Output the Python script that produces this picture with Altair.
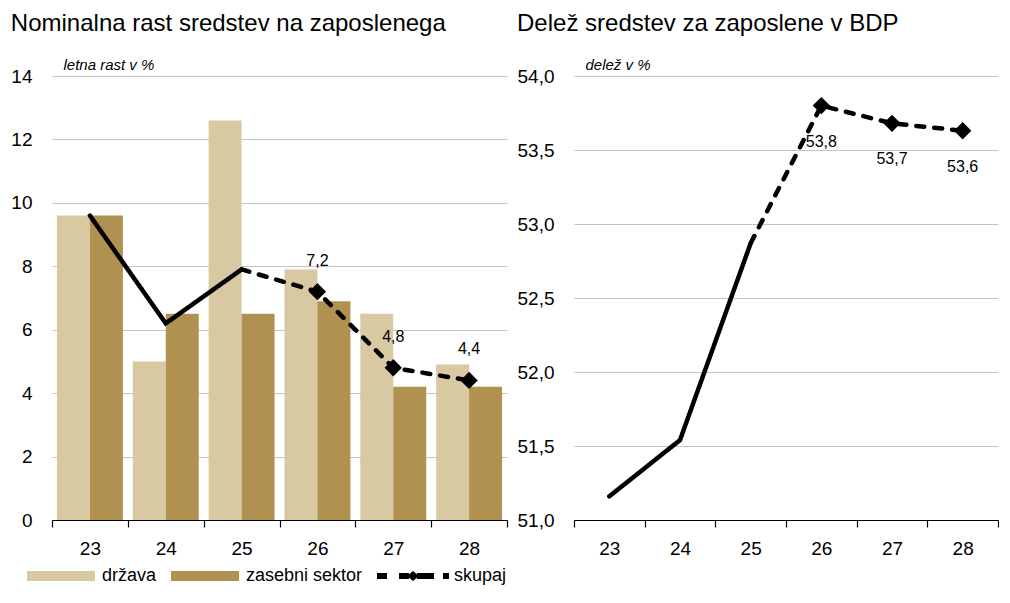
import altair as alt
import pandas as pd

# ---------------- data ----------------
years = ["23", "24", "25", "26", "27", "28"]
drzava = [9.6, 5.0, 12.6, 7.9, 6.5, 4.9]
zasebni = [9.6, 6.5, 6.5, 6.9, 4.2, 4.2]
skupaj = [9.6, 6.2, 7.9, 7.2, 4.8, 4.4]
delez = [51.16, 51.54, 52.87, 53.80, 53.68, 53.63]

series_names = ["država", "zasebni sektor", "skupaj"]
series_colors = ["#d8c9a3", "#b0914f", "#000000"]
last_actual = 2        # index of last realised year (25); forecasts afterwards
first_marker = 3       # forecasts with markers and labels (26-28)

TITLE_LEFT = "Nominalna rast sredstev na zaposlenega"
TITLE_RIGHT = "Delež sredstev za zaposlene v BDP"
UNIT_LEFT = "letna rast v %"
UNIT_RIGHT = "delež v %"

FONT = "Liberation Sans, Arial, sans-serif"


def fmt(v):
    return f"{v:.1f}".replace(".", ",")


bars_df = pd.DataFrame(
    [{"year": y, "series": series_names[0], "value": v} for y, v in zip(years, drzava)]
    + [{"year": y, "series": series_names[1], "value": v} for y, v in zip(years, zasebni)]
)


def line_frame(vals):
    rows = []
    for i in range(0, last_actual + 1):
        rows.append({"year": years[i], "value": vals[i], "seg": "solid"})
    for i in range(last_actual, len(years)):
        rows.append({"year": years[i], "value": vals[i], "seg": "dashed"})
    return pd.DataFrame(rows)


def point_frame(vals):
    return pd.DataFrame(
        [{"year": years[i], "value": vals[i], "label": fmt(vals[i])}
         for i in range(first_marker, len(years))]
    )


RECT = "M-3.4,-0.5H3.4V0.5H-3.4Z"
DASHDIAMOND = ("M-3.6,-0.3H-2.6V0.3H-3.6Z M-1.4,-0.3H-0.4V0.3H-1.4Z "
               "M-0.6,0L0,-0.5L0.6,0L0,0.5Z M0.4,-0.3H2.1V0.3H0.4Z M3.0,-0.3H3.6V0.3H3.0Z")


def x_enc():
    return alt.X(
        "year:N",
        sort=years,
        scale=alt.Scale(domain=years, paddingInner=0, paddingOuter=0),
        axis=alt.Axis(
            title=None, labelAngle=0, tickBand="extent", ticks=True, tickSize=7,
            tickColor="black", domainColor="black", domainWidth=1.2, tickWidth=1.2,
            labelFont=FONT, labelFontSize=19, labelColor="black", labelPadding=12,
            grid=False,
        ),
    )


def y_axis(values, unit, labelexpr=None):
    kw = dict(
        values=values, title=unit, titleAngle=0, titleAlign="left", titleBaseline="bottom",
        titleX=11, titleY=-4, titleFont=FONT, titleFontStyle="italic",
        titleFontWeight="normal", titleFontSize=15, titleColor="black",
        domain=False, ticks=False, tickSize=0, labelPadding=20,
        labelFont=FONT, labelFontSize=19, labelColor="black",
        grid=True, gridColor="#c4c4c4", gridWidth=1,
    )
    if labelexpr:
        kw["labelExpr"] = labelexpr
    return alt.Axis(**kw)


# ---------------- left panel ----------------
y_left = alt.Y("value:Q", scale=alt.Scale(domain=[0, 14], nice=False),
               axis=y_axis(list(range(0, 15, 2)), UNIT_LEFT))

color_scale = alt.Scale(domain=series_names, range=series_colors)

legend = alt.Legend(
    title=None, orient="none", legendX=-1, legendY=490, direction="horizontal",
    symbolSize=400, symbolStrokeWidth=0, labelFont=FONT, labelFontSize=18,
    labelColor="black", labelOffset=31, columnPadding=14, labelLimit=300, padding=0,
    symbolType={"expr": f"datum.value === '{series_names[2]}' ? '{DASHDIAMOND}' : '{RECT}'"},
)

bars = alt.Chart(bars_df).mark_bar().encode(
    x=x_enc(),
    xOffset=alt.XOffset("series:N", sort=series_names[:2],
                        scale=alt.Scale(domain=series_names[:2], paddingOuter=0.15, paddingInner=0)),
    y=y_left,
    color=alt.Color("series:N", scale=color_scale, legend=legend),
)

dash_scale = alt.Scale(domain=["solid", "dashed"], range=[[1, 0], [8, 10]])


def line_layer(df, y):
    return alt.Chart(df).mark_line(color="black", strokeWidth=4.5, strokeCap="round",
                                   strokeJoin="miter").encode(
        x=x_enc(), y=y, detail="seg:N",
        strokeDash=alt.StrokeDash("seg:N", scale=dash_scale, legend=None),
    )


def point_layer(df, y):
    return alt.Chart(df).mark_point(shape="diamond", filled=True, size=300,
                                    color="black", opacity=1).encode(x=x_enc(), y=y)


def text_layer(df, y, dy):
    return alt.Chart(df).mark_text(dy=dy, font=FONT, fontSize=16, color="black").encode(
        x=x_enc(), y=y, text="label:N")


left = alt.layer(
    bars,
    line_layer(line_frame(skupaj), y_left),
    point_layer(point_frame(skupaj), y_left),
    text_layer(point_frame(skupaj), y_left, -31),
).properties(
    width=455, height=444,
    title=alt.TitleParams(TITLE_LEFT, anchor="start", font=FONT, fontSize=24,
                          fontWeight="normal", color="black", offset=21),
)

# ---------------- right panel ----------------
y_right = alt.Y("value:Q", scale=alt.Scale(domain=[51, 54], nice=False, zero=False),
                axis=y_axis([51, 51.5, 52, 52.5, 53, 53.5, 54], UNIT_RIGHT,
                            "replace(format(datum.value, '.1f'), '.', ',')"))

right = alt.layer(
    line_layer(line_frame(delez), y_right),
    point_layer(point_frame(delez), y_right),
    text_layer(point_frame(delez), y_right, 36),
).properties(
    width=424, height=444,
    title=alt.TitleParams(TITLE_RIGHT, anchor="start", font=FONT, fontSize=24,
                          fontWeight="normal", color="black", offset=21),
)

chart = alt.hconcat(left, right, spacing=9).properties(
    padding={"left": 2, "top": 4, "right": 0, "bottom": 0},
    background="white",
).configure_view(stroke=None).resolve_scale(color="independent")

chart.save("out.html", embed_options={"renderer": "svg", "actions": False})
